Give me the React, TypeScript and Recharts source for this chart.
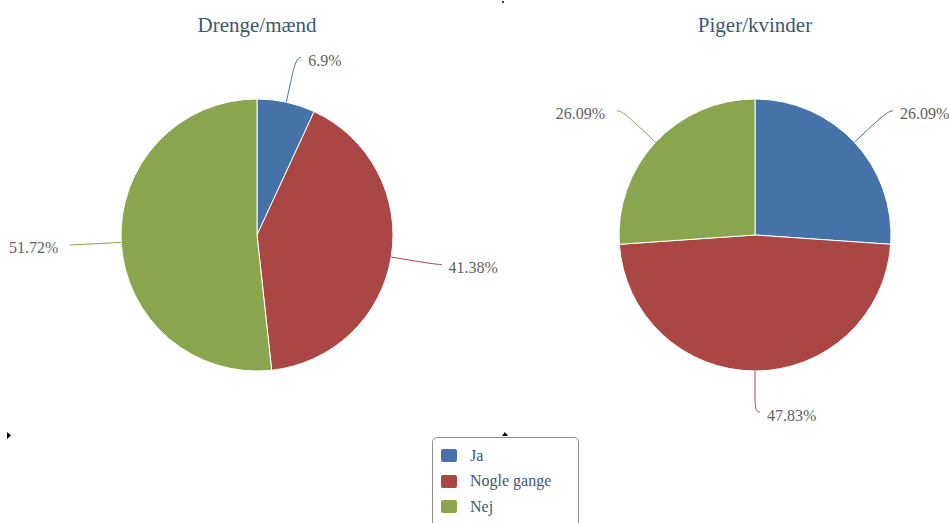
import React from "react"
import { PieChart, Pie, Cell, Legend } from "recharts"

const CATEGORIES = ["Ja", "Nogle gange", "Nej"]
const COLORS = ["#4572A7", "#AA4643", "#89A54E"]
const BOYS = [6.9, 41.38, 51.72]
const GIRLS = [26.09, 47.83, 26.09]
const TITLES = ["Drenge/mænd", "Piger/kvinder"]

const FONT = "Liberation Serif"
const RADIAN = Math.PI / 180
const R = 136
const LABEL_R = 182

const toRows = (values: number[]) => CATEGORIES.map((name, i) => ({ name, value: values[i] }))

// highcharts style label with a soft connector
function renderLabel(props: any) {
  const { cx, cy, midAngle, outerRadius, value, index } = props
  const color = COLORS[index % COLORS.length]
  const cos = Math.cos(midAngle * RADIAN)
  const sin = Math.sin(midAngle * RADIAN)
  const sign = cos > -1e-6 ? 1 : -1
  const ex = cx + outerRadius * cos
  const ey = cy - outerRadius * sin
  const bx = cx + (outerRadius + 18) * cos
  const by = cy - (outerRadius + 18) * sin
  const y0 = cy - LABEL_R * sin
  const xl = cx + sign * Math.sqrt(Math.max(0, LABEL_R * LABEL_R - (y0 - cy) * (y0 - cy)))
  // keep bottom labels inside the plot like highcharts does
  const y = Math.min(y0, cy + 177)
  const d = `M${xl + sign * 5},${y} C${xl},${y} ${2 * bx - ex},${2 * by - ey} ${bx},${by} L${ex},${ey}`
  return (
    <g>
      <path d={d} fill="none" stroke={color} strokeWidth={1} />
      <text
        x={sign > 0 ? xl + 12 : xl - 17}
        y={y + 3}
        textAnchor={sign > 0 ? "start" : "end"}
        dominantBaseline="central"
        fill="#606060"
        fontFamily={FONT}
        fontSize={16}
      >
        {`${value}%`}
      </text>
    </g>
  )
}

function LegendBox() {
  return (
    <div
      style={{
        width: 147,
        height: 90,
        border: "1px solid #909090",
        borderRadius: 5,
        background: "#fff",
        boxSizing: "border-box",
        paddingTop: 5,
      }}
    >
      {CATEGORIES.map((c, i) => (
        <div key={c} style={{ display: "flex", alignItems: "center", height: 25.5, paddingLeft: 8 }}>
          <span style={{ width: 16, height: 13, borderRadius: 2, background: COLORS[i], display: "inline-block" }} />
          <span style={{ marginLeft: 13, fontFamily: FONT, fontSize: 16, color: "#3E576F" }}>{c}</span>
        </div>
      ))}
    </div>
  )
}

export default function App() {
  return (
    <div style={{ position: "absolute", left: 0, top: 0, width: 949, height: 523, overflow: "hidden", background: "#fff" }}>
      <PieChart width={949} height={523} margin={{ top: 0, right: 0, bottom: 0, left: 0 }}>
        <Pie
          data={toRows(BOYS)}
          dataKey="value"
          nameKey="name"
          cx={257}
          cy={235}
          outerRadius={R}
          startAngle={90}
          endAngle={-270}
          stroke="#fff"
          strokeWidth={1}
          label={renderLabel}
          labelLine={false}
          isAnimationActive={false}
        >
          {BOYS.map((_, i) => (
            <Cell key={`b-${i}`} fill={COLORS[i]} />
          ))}
        </Pie>
        <Pie
          data={toRows(GIRLS)}
          dataKey="value"
          nameKey="name"
          cx={755}
          cy={235}
          outerRadius={R}
          startAngle={90}
          endAngle={-270}
          stroke="#fff"
          strokeWidth={1}
          label={renderLabel}
          labelLine={false}
          isAnimationActive={false}
        >
          {GIRLS.map((_, i) => (
            <Cell key={`g-${i}`} fill={COLORS[i]} />
          ))}
        </Pie>
        <Legend
          content={() => <LegendBox />}
          wrapperStyle={{ position: "absolute", left: 432, top: 437, width: 147, height: 90 }}
        />
      </PieChart>
      {TITLES.map((t, i) => (
        <div
          key={t}
          style={{
            position: "absolute",
            left: (i === 0 ? 257 : 755) - 150,
            width: 300,
            top: 11,
            textAlign: "center",
            fontFamily: FONT,
            fontSize: 21,
            color: "#3E576F",
            lineHeight: "28px",
          }}
        >
          {t}
        </div>
      ))}
      <svg width={949} height={523} style={{ position: "absolute", left: 0, top: 0, pointerEvents: "none" }}>
        <path d="M7,432 L11,435.5 L7,439 Z" fill="#000" />
        <path d="M505,432 L508,436 L502,436 Z" fill="#000" />
        <circle cx={503} cy={2} r={1} fill="#000" />
      </svg>
    </div>
  )
}
